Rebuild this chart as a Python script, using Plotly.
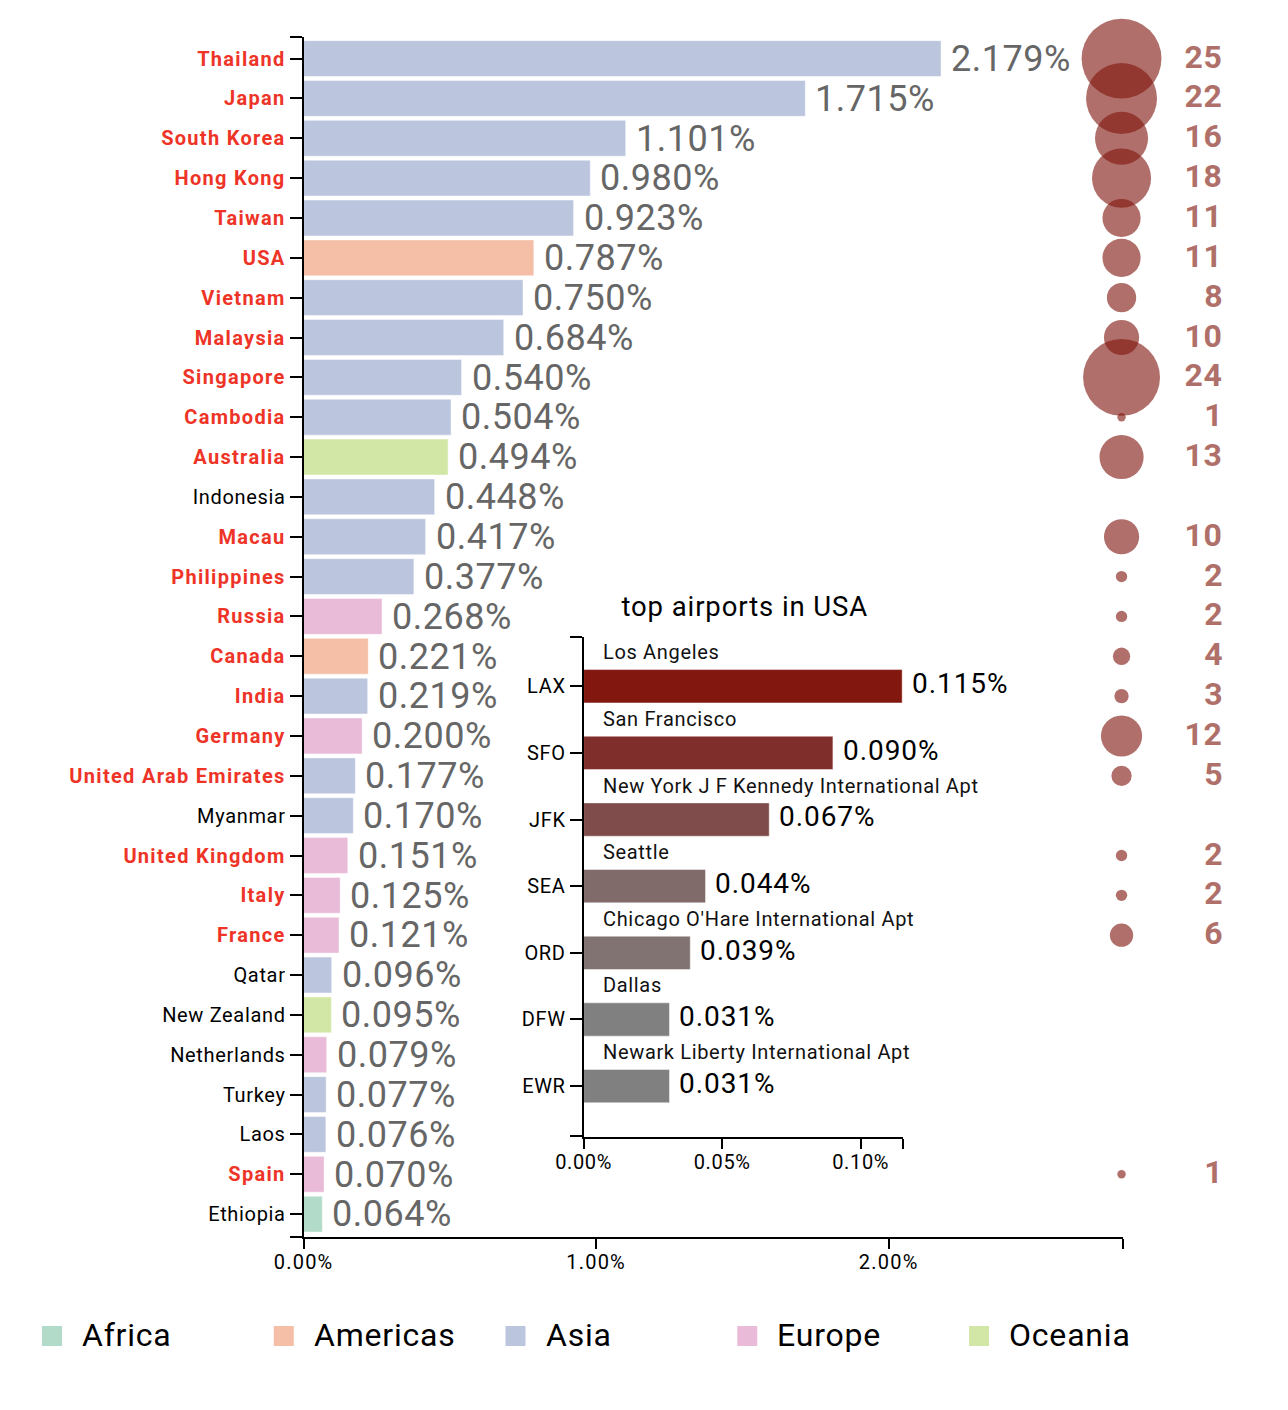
import plotly.graph_objects as go

W, H = 1288, 1410

# ---- data ----
countries = ["Thailand","Japan","South Korea","Hong Kong","Taiwan","USA","Vietnam","Malaysia","Singapore","Cambodia",
             "Australia","Indonesia","Macau","Philippines","Russia","Canada","India","Germany","United Arab Emirates","Myanmar",
             "United Kingdom","Italy","France","Qatar","New Zealand","Netherlands","Turkey","Laos","Spain","Ethiopia"]
shares = [2.179,1.715,1.101,0.980,0.923,0.787,0.750,0.684,0.540,0.504,
          0.494,0.448,0.417,0.377,0.268,0.221,0.219,0.200,0.177,0.170,
          0.151,0.125,0.121,0.096,0.095,0.079,0.077,0.076,0.070,0.064]
regions = ["Asia","Asia","Asia","Asia","Asia","Americas","Asia","Asia","Asia","Asia",
           "Oceania","Asia","Asia","Asia","Europe","Americas","Asia","Europe","Asia","Asia",
           "Europe","Europe","Europe","Asia","Oceania","Europe","Asia","Asia","Europe","Africa"]
counts = [25,22,16,18,11,11,8,10,24,1,13,None,10,2,2,4,3,12,5,None,2,2,6,None,None,None,None,None,1,None]

airports = ["LAX","SFO","JFK","SEA","ORD","DFW","EWR"]
airport_names = ["Los Angeles","San Francisco","New York J F Kennedy International Apt","Seattle",
                 "Chicago O'Hare International Apt","Dallas","Newark Liberty International Apt"]
airport_shares = [0.115,0.090,0.067,0.044,0.0385,0.031,0.031]
airport_labels = ["0.115%","0.090%","0.067%","0.044%","0.039%","0.031%","0.031%"]
airport_colors = ["#81170f","#7f2e2b","#7f4b4b","#806a6a","#807371","#808080","#808080"]

legend_regions = ["Africa","Americas","Asia","Europe","Oceania"]
region_colors = {"Africa":"#b2dbc9","Americas":"#f5bea6","Asia":"#bbc6de","Europe":"#e9bbd8","Oceania":"#d2e7a5"}

main_xticks = [0.0,1.0,2.0]
inset_xticks = [0.0,0.05,0.10]

RED = "#ee3427"
BUBBLE = "#80170f"
BUBBLE_TXT = "#b0706a"
BUBBLE_X = 2.796
EDGE = "rgba(255,255,255,0.45)"

def px_x(a, b): return [a / W, b / W]
def px_y(top, bottom): return [1 - bottom / H, 1 - top / H]

fig = go.Figure()

# main bars, one trace per region
for r in legend_regions:
    idx = [i for i, g in enumerate(regions) if g == r]
    fig.add_trace(go.Bar(x=[shares[i] for i in idx], y=[countries[i] for i in idx], orientation="h",
                         name=r, width=0.9, marker=dict(color=region_colors[r], line=dict(width=1, color=EDGE)),
                         xaxis="x", yaxis="y", showlegend=False))

# bubbles
bx = [(c, n) for c, n in zip(countries, counts) if n is not None]
fig.add_trace(go.Scatter(x=[BUBBLE_X]*len(bx), y=[c for c, _ in bx], mode="markers",
                         marker=dict(size=[5.4 + 2.98*n for _, n in bx], sizemode="diameter",
                                     color=BUBBLE, opacity=0.62, line_width=0),
                         xaxis="x", yaxis="y", showlegend=False, cliponaxis=False))

# inset bars
fig.add_trace(go.Bar(x=airport_shares, y=airports, orientation="h", width=0.5,
                     marker=dict(color=airport_colors, line=dict(width=1, color=EDGE)),
                     xaxis="x2", yaxis="y2", showlegend=False))

# legend row
fig.add_trace(go.Scatter(x=legend_regions, y=[0]*5, mode="markers",
                         marker=dict(symbol="square", size=20, line_width=0,
                                     color=[region_colors[r] for r in legend_regions]),
                         xaxis="x3", yaxis="y3", showlegend=False, cliponaxis=False))

ann = []
for c, v, n in zip(countries, shares, counts):
    ann.append(dict(x=v, y=c, xref="x", yref="y", text=f"{v:.3f}%", showarrow=False, xanchor="left", align="left",
                    xshift=8, yshift=-0.3, font=dict(size=36, color="#666666")))
    if n is not None:
        ann.append(dict(x=BUBBLE_X, y=c, xref="x", yref="y", text=str(n), showarrow=False, xanchor="right", align="right",
                        xshift=103, yshift=2, font=dict(size=32, color=BUBBLE_TXT, weight=700)))
for a, name, v, lab in zip(airports, airport_names, airport_shares, airport_labels):
    ann.append(dict(x=v, y=a, xref="x2", yref="y2", text=lab, showarrow=False, xanchor="left", align="left",
                    xshift=8, yshift=2.6, font=dict(size=28, color="#000")))
    ann.append(dict(x=0, y=a, xref="x2", yref="y2", text=name, showarrow=False, xanchor="left", align="left",
                    xshift=17, yshift=34, font=dict(size=20, color="#111")))
ann.append(dict(x=0.5, y=1, xref="x2 domain", yref="y2 domain", text="top airports in USA", showarrow=False,
                yanchor="bottom", yshift=12, xshift=2, font=dict(size=27.5, color="#000")))
for r in legend_regions:
    ann.append(dict(x=r, y=0, xref="x3", yref="y3", text=r, showarrow=False, xanchor="left", align="left",
                    xshift=28, yshift=1, font=dict(size=32, color="#000")))

main_top, main_bot = -0.542, 29.562
in_top, in_bot = -0.739, 6.756
x_max, x2_max = 2.801, 0.1153
eps = 1e-4

axis = dict(showgrid=False, zeroline=False, showline=True, linecolor="#000", linewidth=2, automargin=False,
            ticks="outside", ticklen=12, tickwidth=1.5, tickcolor="#000",
            tickfont=dict(family="Roboto", size=20, color="#000"))

ylabels = [(f'<b><span style="color:{RED}">{c}</span></b>' if n is not None else c) for c, n in zip(countries, counts)]

fig.update_layout(
    template="none",
    width=W, height=H, margin=dict(l=0, r=0, t=0, b=0), autosize=False,
    paper_bgcolor="#fff", plot_bgcolor="rgba(0,0,0,0)", barmode="overlay",
    font=dict(family="Roboto"), annotations=ann,
    xaxis=dict(axis, domain=px_x(303.6, 1123), range=[0, x_max], anchor="y", ticklabelstandoff=-4, ticklen=10,
               tickvals=main_xticks + [x_max - eps], ticktext=[f"{t:.2f}%" for t in main_xticks] + [""]),
    yaxis=dict(axis, domain=px_y(37, 1236.5), type="category", categoryorder="array", categoryarray=countries,
               range=[main_bot, main_top], anchor="x", ticklabelstandoff=0,
               tickvals=[main_top + eps] + list(range(30)) + [main_bot - eps], ticktext=[""] + ylabels + [""]),
    xaxis2=dict(axis, domain=px_x(583.6, 903), range=[0, x2_max], anchor="y2", ticklabelstandoff=-4, ticklen=10,
                tickvals=inset_xticks + [x2_max - eps/10], ticktext=[f"{t:.2f}%" for t in inset_xticks] + [""]),
    yaxis2=dict(axis, domain=px_y(637, 1136.5), type="category", categoryorder="array", categoryarray=airports,
                range=[in_bot, in_top], anchor="x2", ticklabelstandoff=0,
                tickvals=[in_top + eps] + list(range(7)) + [in_bot - eps], ticktext=[""] + airports + [""]),
    xaxis3=dict(visible=False, domain=px_x(52, 979), type="category", categoryorder="array",
                categoryarray=legend_regions, range=[0, 4], anchor="y3"),
    yaxis3=dict(visible=False, domain=px_y(1326, 1346), range=[-1, 1], anchor="x3"),
)

post = """
document.body.style.margin='0';
var s=document.createElement('style');
s.textContent='svg text{letter-spacing:0.033em}'
 + ' .xtick text{letter-spacing:0.06em}'
 + ' .ytick tspan[style*="bold"]{letter-spacing:1.3px}'
 + ' .annotation-text[style*="font-size: 32px"]{letter-spacing:0.025em}'
 + ' .annotation-text[style*="font-size: 36px"]{letter-spacing:0.014em}';
document.head.appendChild(s);
Plotly.redraw('{plot_id}');
"""
fig.write_html("out.html", post_script=post, config=dict(displayModeBar=False))
